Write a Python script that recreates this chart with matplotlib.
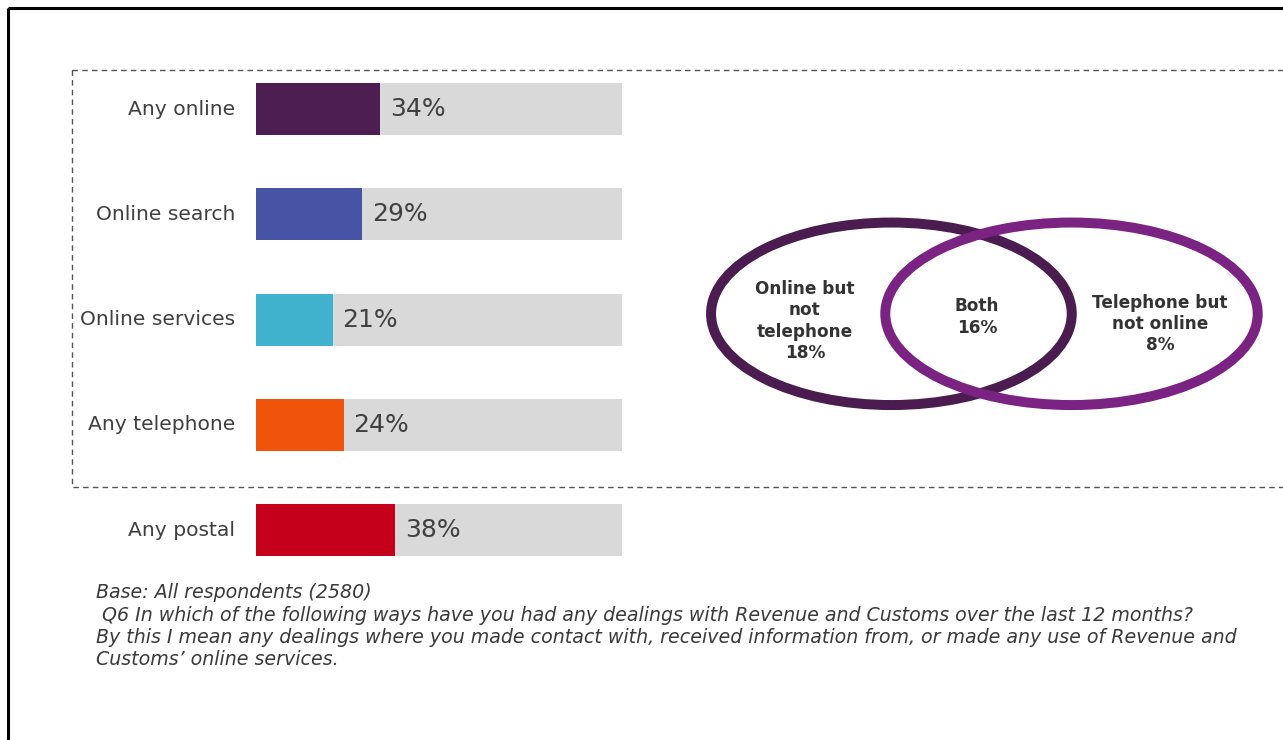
import matplotlib.pyplot as plt
from matplotlib.patches import Ellipse, Rectangle

# ways of dealing with Revenue and Customs, % of all respondents
channels = ["Any online", "Online search", "Online services", "Any telephone", "Any postal"]
shares = [34, 29, 21, 24, 38]
bar_colors = ["#4D1E52", "#4753A5", "#40B2CE", "#F0530A", "#C5001A"]

# overlap of online and telephone contact
venn_labels = ["Online but\nnot\ntelephone", "Both", "Telephone but\nnot online"]
venn_shares = [18, 16, 8]

note_lines = [
    "Base: All respondents (2580)",
    " Q6 In which of the following ways have you had any dealings with Revenue and Customs over the last 12 months?",
    "By this I mean any dealings where you made contact with, received information from, or made any use of Revenue and",
    "Customs\u2019 online services.",
]

W, H = 1283, 740
fig = plt.figure(figsize=(W / 100, H / 100), dpi=100)
fig.patch.set_facecolor("white")

# full-figure layer in pixel units for frame, venn and notes
bg = fig.add_axes([0, 0, 1, 1])
bg.set_xlim(0, W)
bg.set_ylim(H, 0)
bg.axis("off")

bg.add_patch(Rectangle((7.5, 7.5), W + 20, H + 20, fill=False, ec="black", lw=2.2))
bg.add_patch(Rectangle((72, 70), W + 20, 417, fill=False, ec="#555555", lw=1.0,
                       linestyle=(0, (4, 3))))

# venn diagram
bg.add_patch(Ellipse((891.4, 313.8), 360.7, 182.5, fill=False, ec="#4B1C4F", lw=7.2))
bg.add_patch(Ellipse((1071.5, 313.8), 372.4, 182.5, fill=False, ec="#7B2382", lw=7.2))
venn_pos = [(805, 321), (977, 317), (1160, 324)]
for (x, y), lab, v in zip(venn_pos, venn_labels, venn_shares):
    bg.text(x, y, f"{lab}\n{v}%", ha="center", va="center", fontsize=12.2,
            fontweight="bold", color="#333333", linespacing=1.25)

# notes under the chart
for i, line in enumerate(note_lines):
    bg.text(96, 593 + i * 22.3, line, ha="left", va="center", fontsize=13.7,
            style="italic", color="#3a3a3a")

# bar chart
ax = fig.add_axes([256 / W, 1 - 582.6 / H, 366 / W, 525.9 / H])
ax.patch.set_alpha(0)
y = list(range(len(channels)))
ax.barh(y, [100] * len(channels), height=0.494, color="#D9D9D9")
ax.barh(y, shares, height=0.494, color=bar_colors)
for i, v in enumerate(shares):
    ax.annotate(f"{v}%", xy=(v, i), xytext=(7, 0), textcoords="offset points",
                ha="left", va="center", fontsize=18, color="#404040")
ax.set_xlim(0, 100)
ax.set_ylim(len(channels) - 0.5, -0.5)
ax.set_yticks(y, channels)
ax.set_xticks([])
ax.tick_params(axis="y", length=0, pad=15, labelsize=14.6, labelcolor="#404040")
for lab in ax.get_yticklabels():
    lab.set_va("center")
for s in ax.spines.values():
    s.set_visible(False)

fig.savefig("out.png", dpi=100)
